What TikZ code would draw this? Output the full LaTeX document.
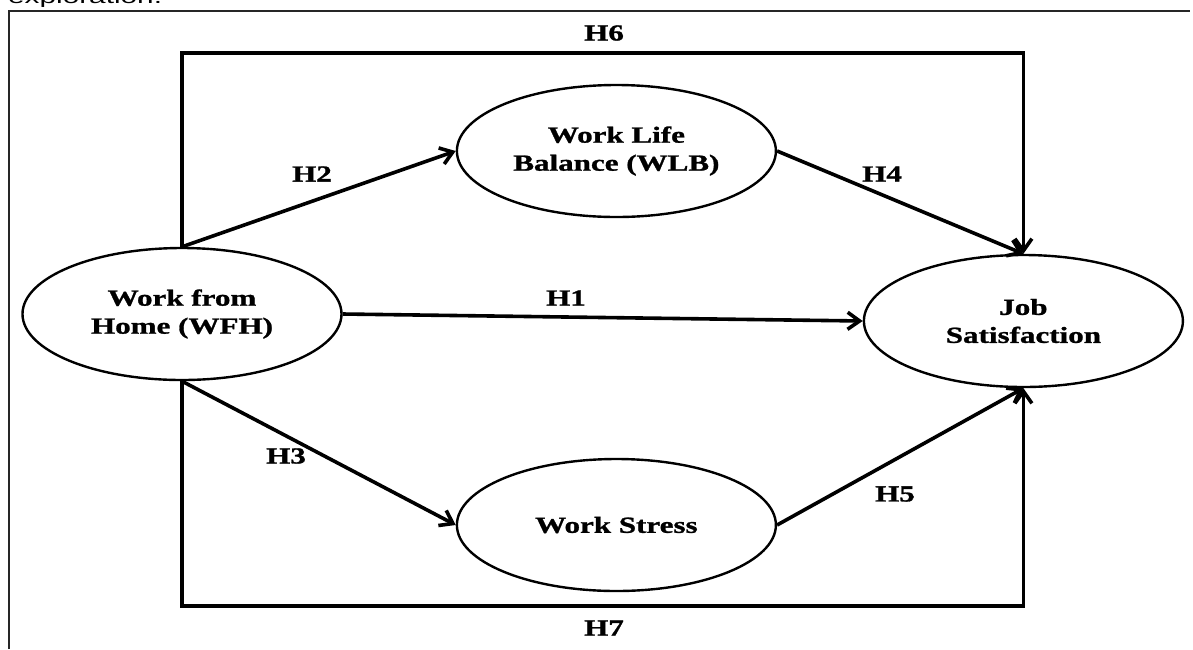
\documentclass[tikz,border=0pt]{standalone}
\usepackage{fontspec}
\setmainfont{Liberation Serif}[FakeStretch=1.35,BoldFeatures={FakeBold=1.2}]
\newfontfamily\pagefont{Liberation Sans}[FakeStretch=1.55]
\usepackage{tikz}
\usetikzlibrary{positioning,arrows.meta,shapes.geometric}

\begin{document}
\begin{tikzpicture}[
x=1pt,y=1pt,
var/.style={
ellipse,draw,line width=2.4pt,
inner sep=0pt,
align=center,
minimum width=319pt,
minimum height=132pt,
font=\fontsize{23}{28}\selectfont\bfseries
},
hyp/.style={font=\fontsize{23}{26}\selectfont\bfseries},
arrow/.style={-{Straight Barb[length=12pt,width=17pt]},line width=3.6pt}
]
\useasboundingbox (0,0) rectangle (1193,-649);

% PAGE FRAME
\begin{scope}
\clip (0,0) rectangle (1193,-649);
\node[anchor=base west,inner sep=0pt,font=\pagefont\fontsize{19.2}{22}\selectfont] (cap) at (8,-3) {exploration.};
\end{scope}
\draw[line width=1.4pt,black!85] (9,-649) -- (9,-11) -- (1190,-11);

% CONSTRUCTS
\node[var] (wfh) at (182,-314) {Work from\\Home (WFH)};

\node[var,right=113pt of wfh,yshift=163pt] (wlb) {Work Life\\Balance (WLB)};

\node[var,right=113pt of wfh,yshift=-211pt] (ws) {Work Stress};

\node[var,right=520pt of wfh,yshift=-7pt] (js) {Job\\Satisfaction};

% CORNERS
\coordinate (topL) at (182,-53);
\coordinate (botL) at (182,-606);

% LABELS
\node[hyp] (h6) at (604,-33) {H6};
\node[hyp] (h2) at (312,-174) {H2};
\node[hyp] (h4) at (882,-174) {H4};
\node[hyp] (h1) at (566,-298) {H1};
\node[hyp] (h3) at (286,-456) {H3};
\node[hyp] (h5) at (895,-494) {H5};
\node[hyp] (h7) at (604,-628) {H7};

% ARROWS
\draw[arrow] (wfh.east) -- (js.west);
\draw[arrow] (wfh.north) -- (wlb.west);
\draw[arrow] (wfh.south) -- (ws.west);
\draw[arrow] (wlb.east) -- (js.north);
\draw[arrow] (ws.east) -- (js.south);
\draw[arrow] (wfh.north) -- (topL) -| (js.north);
\draw[arrow] (wfh.south) -- (botL) -| (js.south);

\end{tikzpicture}
\end{document}
